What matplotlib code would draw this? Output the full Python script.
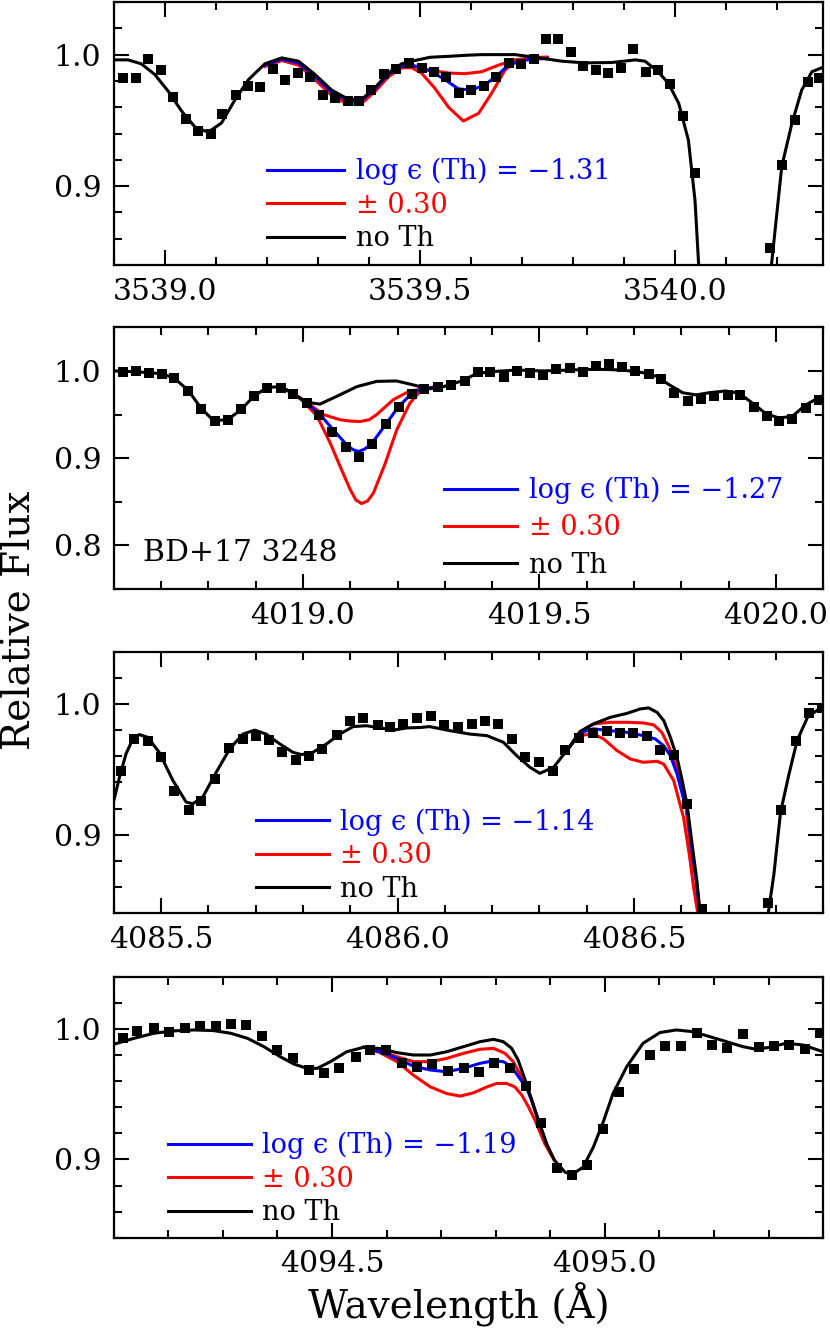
import matplotlib
matplotlib.use('Agg')
import matplotlib.pyplot as plt
from matplotlib.ticker import MultipleLocator, FormatStrFormatter

# ---- panel 1 : 3539 A region ----
p1_wave = [3538.918, 3538.943, 3538.967, 3538.992, 3539.016, 3539.041, 3539.065, 3539.090, 3539.113, 3539.139,
           3539.163, 3539.186, 3539.212, 3539.236, 3539.260, 3539.284, 3539.309, 3539.333, 3539.358, 3539.381,
           3539.405, 3539.430, 3539.454, 3539.478, 3539.503, 3539.527, 3539.551, 3539.576, 3539.600, 3539.625,
           3539.649, 3539.674, 3539.698, 3539.723, 3539.747, 3539.771, 3539.796, 3539.820, 3539.844, 3539.869,
           3539.894, 3539.917, 3539.943, 3539.967, 3539.990, 3540.016, 3540.039, 3540.185, 3540.209, 3540.235,
           3540.260, 3540.282]
p1_flux = [0.982, 0.982, 0.997, 0.988, 0.968, 0.951, 0.942, 0.940, 0.955, 0.969,
           0.976, 0.975, 0.989, 0.981, 0.986, 0.983, 0.969, 0.967, 0.965, 0.965,
           0.973, 0.985, 0.989, 0.994, 0.990, 0.987, 0.983, 0.971, 0.973, 0.976,
           0.983, 0.994, 0.993, 0.997, 1.012, 1.012, 1.002, 0.991, 0.988, 0.986,
           0.990, 1.004, 0.987, 0.988, 0.978, 0.953, 0.910, 0.853, 0.916, 0.950,
           0.979, 0.982]
p1_noth_w = [3538.902, 3538.928, 3538.954, 3538.980, 3539.007, 3539.033, 3539.059, 3539.085, 3539.111, 3539.138,
             3539.164, 3539.196, 3539.229, 3539.262, 3539.294, 3539.327, 3539.360, 3539.386, 3539.412, 3539.438,
             3539.464, 3539.490, 3539.520, 3539.556, 3539.590, 3539.621, 3539.655, 3539.686, 3539.725, 3539.778,
             3539.824, 3539.876, 3539.922, 3539.941, 3539.967, 3539.987, 3540.007, 3540.026, 3540.039, 3540.046,
             3540.052, 3540.183, 3540.189, 3540.209, 3540.229, 3540.248, 3540.268, 3540.294]
p1_noth_f = [0.996, 0.996, 0.993, 0.985, 0.972, 0.957, 0.945, 0.941, 0.948, 0.966,
             0.981, 0.993, 0.9975, 0.995, 0.985, 0.973, 0.966, 0.966, 0.975, 0.986,
             0.993, 0.9955, 0.998, 0.9987, 0.9995, 1.000, 1.000, 1.000, 0.998, 0.995,
             0.9937, 0.994, 0.996, 0.995, 0.987, 0.978, 0.963, 0.935, 0.889, 0.841,
             0.78, 0.78, 0.841, 0.915, 0.948, 0.973, 0.987, 0.991]
p1_blue_w = [3539.196, 3539.229, 3539.262, 3539.294, 3539.327, 3539.360, 3539.386, 3539.412, 3539.438, 3539.464,
             3539.484, 3539.503, 3539.523, 3539.549, 3539.575, 3539.601, 3539.627, 3539.654, 3539.673, 3539.699,
             3539.725, 3539.750]
p1_blue_f = [0.992, 0.9965, 0.9937, 0.9835, 0.9715, 0.9648, 0.9652, 0.974, 0.985, 0.991,
             0.992, 0.990, 0.987, 0.981, 0.974, 0.973, 0.977, 0.985, 0.992, 0.9954,
             0.9967, 0.997]
p1_hi_w = [3539.196, 3539.229, 3539.262, 3539.294, 3539.327, 3539.360, 3539.386, 3539.412, 3539.438, 3539.464,
           3539.490, 3539.516, 3539.556, 3539.588, 3539.621, 3539.654, 3539.686, 3539.725, 3539.750]
p1_hi_f = [0.9915, 0.996, 0.993, 0.9825, 0.9705, 0.9635, 0.964, 0.973, 0.984, 0.990,
           0.991, 0.9885, 0.986, 0.9855, 0.987, 0.992, 0.996, 0.998, 0.998]
p1_lo_w = [3539.196, 3539.229, 3539.262, 3539.294, 3539.327, 3539.360, 3539.386, 3539.412, 3539.438, 3539.464,
           3539.484, 3539.503, 3539.529, 3539.556, 3539.585, 3539.615, 3539.641, 3539.667, 3539.686, 3539.713,
           3539.748]
p1_lo_f = [0.991, 0.9955, 0.992, 0.981, 0.969, 0.962, 0.963, 0.972, 0.983, 0.990,
           0.990, 0.986, 0.9745, 0.960, 0.9495, 0.9554, 0.971, 0.9885, 0.994, 0.9967,
           0.998]

# ---- panel 2 : 4019 A region ----
p2_wave = [4018.619, 4018.646, 4018.674, 4018.703, 4018.728, 4018.757, 4018.785, 4018.814, 4018.841, 4018.868,
           4018.896, 4018.924, 4018.954, 4018.980, 4019.008, 4019.035, 4019.062, 4019.091, 4019.119, 4019.147,
           4019.175, 4019.203, 4019.231, 4019.256, 4019.286, 4019.314, 4019.342, 4019.370, 4019.395, 4019.425,
           4019.453, 4019.481, 4019.508, 4019.536, 4019.564, 4019.592, 4019.620, 4019.647, 4019.675, 4019.703,
           4019.731, 4019.757, 4019.785, 4019.814, 4019.842, 4019.870, 4019.898, 4019.925, 4019.953, 4019.981,
           4020.007, 4020.035, 4020.063, 4020.091]
p2_flux = [0.999, 1.000, 0.998, 0.997, 0.992, 0.977, 0.956, 0.943, 0.944, 0.956,
           0.971, 0.981, 0.981, 0.973, 0.963, 0.949, 0.930, 0.913, 0.901, 0.916,
           0.939, 0.959, 0.974, 0.979, 0.982, 0.984, 0.989, 0.999, 0.999, 0.993,
           1.000, 0.998, 0.995, 1.002, 1.003, 0.999, 1.006, 1.008, 1.005, 1.000,
           0.997, 0.991, 0.975, 0.966, 0.968, 0.971, 0.972, 0.972, 0.959, 0.948,
           0.943, 0.945, 0.958, 0.967]
p2_noth_w = [4018.600, 4018.646, 4018.675, 4018.703, 4018.728, 4018.757, 4018.785, 4018.811, 4018.840, 4018.868,
             4018.896, 4018.924, 4018.952, 4018.980, 4019.008, 4019.036, 4019.072, 4019.114, 4019.156, 4019.198,
             4019.241, 4019.262, 4019.297, 4019.339, 4019.367, 4019.395, 4019.451, 4019.508, 4019.564, 4019.620,
             4019.676, 4019.719, 4019.747, 4019.775, 4019.803, 4019.831, 4019.859, 4019.894, 4019.922, 4019.951,
             4019.979, 4020.007, 4020.035, 4020.063, 4020.100]
p2_noth_f = [1.000, 0.999, 0.998, 0.9966, 0.9916, 0.978, 0.957, 0.943, 0.944, 0.955,
             0.971, 0.981, 0.982, 0.974, 0.964, 0.962, 0.971, 0.982, 0.988, 0.9885,
             0.983, 0.979, 0.982, 0.989, 0.997, 0.999, 1.001, 1.000, 1.001, 1.002,
             1.001, 0.998, 0.994, 0.984, 0.975, 0.9725, 0.975, 0.977, 0.9745, 0.963,
             0.951, 0.946, 0.948, 0.961, 0.972]
p2_blue_w = [4018.952, 4018.980, 4019.008, 4019.036, 4019.065, 4019.093, 4019.105, 4019.117, 4019.129, 4019.142,
             4019.158, 4019.174, 4019.202, 4019.230, 4019.254, 4019.280]
p2_blue_f = [0.982, 0.974, 0.963, 0.950, 0.932, 0.915, 0.910, 0.9076, 0.910, 0.915,
             0.926, 0.938, 0.959, 0.974, 0.980, 0.981]
p2_hi_w = [4018.952, 4018.980, 4019.008, 4019.043, 4019.079, 4019.100, 4019.121, 4019.140, 4019.156, 4019.191,
           4019.226, 4019.262, 4019.280]
p2_hi_f = [0.982, 0.974, 0.964, 0.950, 0.944, 0.9425, 0.942, 0.944, 0.950, 0.967,
           0.977, 0.980, 0.981]
p2_lo_w = [4018.952, 4018.980, 4019.001, 4019.030, 4019.058, 4019.079, 4019.100, 4019.112, 4019.124, 4019.137,
           4019.149, 4019.174, 4019.198, 4019.226, 4019.247, 4019.276]
p2_lo_f = [0.982, 0.974, 0.965, 0.948, 0.917, 0.890, 0.864, 0.852, 0.848, 0.851,
           0.860, 0.894, 0.932, 0.963, 0.976, 0.982]

# ---- panel 3 : 4086 A region ----
p3_wave = [4085.415, 4085.443, 4085.472, 4085.500, 4085.528, 4085.558, 4085.585, 4085.613, 4085.643, 4085.673,
           4085.700, 4085.728, 4085.756, 4085.785, 4085.813, 4085.841, 4085.871, 4085.899, 4085.927, 4085.958,
           4085.985, 4086.012, 4086.041, 4086.070, 4086.099, 4086.128, 4086.157, 4086.185, 4086.213, 4086.243,
           4086.270, 4086.299, 4086.328, 4086.354, 4086.384, 4086.413, 4086.442, 4086.470, 4086.499, 4086.527,
           4086.556, 4086.584, 4086.612, 4086.643, 4086.784, 4086.812, 4086.842, 4086.870, 4086.898]
p3_flux = [0.9486, 0.9733, 0.972, 0.9598, 0.9338, 0.919, 0.926, 0.9424, 0.9664, 0.9733,
           0.9753, 0.9727, 0.963, 0.957, 0.960, 0.9656, 0.976, 0.9873, 0.9895, 0.984,
           0.9827, 0.9847, 0.9893, 0.9905, 0.9837, 0.9824, 0.985, 0.9873, 0.9847, 0.973,
           0.9592, 0.9554, 0.949, 0.9649, 0.9743, 0.9777, 0.979, 0.978, 0.978, 0.9756,
           0.9646, 0.9611, 0.9234, 0.8435, 0.8478, 0.919, 0.9715, 0.9928, 0.997]
p3_noth_w = [4085.400, 4085.412, 4085.426, 4085.440, 4085.454, 4085.472, 4085.496, 4085.525, 4085.553, 4085.567,
             4085.588, 4085.617, 4085.645, 4085.673, 4085.698, 4085.722, 4085.751, 4085.779, 4085.797, 4085.821,
             4085.850, 4085.878, 4085.906, 4085.934, 4085.963, 4085.991, 4086.019, 4086.047, 4086.068, 4086.111,
             4086.153, 4086.189, 4086.224, 4086.252, 4086.280, 4086.301, 4086.330, 4086.358, 4086.386, 4086.414,
             4086.450, 4086.485, 4086.513, 4086.531, 4086.549, 4086.563, 4086.577, 4086.591, 4086.602, 4086.612,
             4086.624, 4086.633, 4086.640, 4086.646, 4086.778, 4086.784, 4086.796, 4086.810, 4086.828, 4086.845,
             4086.867, 4086.888, 4086.902]
p3_noth_f = [0.926, 0.944, 0.962, 0.973, 0.9766, 0.9745, 0.963, 0.9415, 0.925, 0.9237,
             0.9287, 0.948, 0.9656, 0.977, 0.980, 0.977, 0.9695, 0.963, 0.9613, 0.963,
             0.9695, 0.977, 0.9827, 0.9834, 0.9817, 0.980, 0.9817, 0.982, 0.9827, 0.9796,
             0.977, 0.9758, 0.9707, 0.9605, 0.9516, 0.947, 0.9516, 0.9644, 0.979, 0.9847,
             0.9898, 0.9928, 0.9962, 0.997, 0.9936, 0.9873, 0.9745, 0.9592, 0.9415, 0.9237,
             0.890, 0.865, 0.840, 0.80, 0.80, 0.84, 0.870, 0.9173, 0.9466, 0.972,
             0.9898, 0.9954, 0.998]
p3_blue_w = [4086.358, 4086.372, 4086.386, 4086.414, 4086.450, 4086.485, 4086.520, 4086.545, 4086.563, 4086.577,
             4086.591, 4086.604, 4086.612, 4086.622, 4086.632, 4086.639, 4086.645]
p3_blue_f = [0.9644, 0.971, 0.978, 0.981, 0.9796, 0.9783, 0.9758, 0.9733, 0.968, 0.9605,
             0.9466, 0.9287, 0.9224, 0.890, 0.865, 0.840, 0.80]
p3_hi_w = [4086.358, 4086.372, 4086.386, 4086.414, 4086.450, 4086.485, 4086.520, 4086.542, 4086.559, 4086.573,
           4086.588, 4086.600, 4086.609, 4086.620, 4086.631, 4086.638, 4086.644]
p3_hi_f = [0.9644, 0.971, 0.9785, 0.9847, 0.986, 0.986, 0.9855, 0.984, 0.9783, 0.968,
           0.954, 0.9363, 0.9237, 0.890, 0.865, 0.840, 0.80]
p3_lo_w = [4086.358, 4086.372, 4086.386, 4086.414, 4086.436, 4086.464, 4086.492, 4086.520, 4086.549, 4086.563,
           4086.584, 4086.605, 4086.617, 4086.626, 4086.635, 4086.641]
p3_lo_f = [0.9644, 0.971, 0.976, 0.977, 0.9733, 0.9644, 0.958, 0.9554, 0.9562, 0.954,
           0.9415, 0.913, 0.885, 0.860, 0.840, 0.80]

# ---- panel 4 : 4095 A region ----
p4_wave = [4094.116, 4094.143, 4094.173, 4094.201, 4094.230, 4094.258, 4094.287, 4094.314, 4094.343, 4094.372,
           4094.399, 4094.428, 4094.457, 4094.485, 4094.513, 4094.543, 4094.570, 4094.599, 4094.628, 4094.655,
           4094.684, 4094.712, 4094.741, 4094.769, 4094.797, 4094.826, 4094.855, 4094.883, 4094.912, 4094.940,
           4094.968, 4094.997, 4095.026, 4095.054, 4095.082, 4095.111, 4095.139, 4095.168, 4095.196, 4095.224,
           4095.253, 4095.282, 4095.310, 4095.338, 4095.367, 4095.395]
p4_flux = [0.9928, 0.9985, 1.0005, 0.9979, 1.0005, 1.0023, 1.0023, 1.0038, 1.0031, 0.9946,
           0.9838, 0.9779, 0.9685, 0.9664, 0.9702, 0.9782, 0.9838, 0.9838, 0.9741, 0.971,
           0.9731, 0.9679, 0.9702, 0.9672, 0.9741, 0.9698, 0.9564, 0.9279, 0.8936, 0.8882,
           0.8959, 0.9236, 0.9513, 0.9692, 0.980, 0.9872, 0.9872, 0.9967, 0.9877, 0.9856,
           0.9959, 0.9859, 0.9869, 0.9877, 0.9844, 0.9967]
p4_noth_w = [4094.102, 4094.137, 4094.174, 4094.210, 4094.247, 4094.283, 4094.314, 4094.345, 4094.375, 4094.405,
             4094.430, 4094.454, 4094.473, 4094.497, 4094.527, 4094.558, 4094.588, 4094.619, 4094.649, 4094.680,
             4094.710, 4094.741, 4094.771, 4094.796, 4094.814, 4094.829, 4094.841, 4094.854, 4094.866, 4094.878,
             4094.893, 4094.908, 4094.927, 4094.940, 4094.960, 4094.979, 4094.997, 4095.015, 4095.040, 4095.070,
             4095.101, 4095.131, 4095.161, 4095.192, 4095.223, 4095.253, 4095.277, 4095.302, 4095.332, 4095.363,
             4095.400]
p4_noth_f = [0.9885, 0.9928, 0.9967, 0.9985, 0.9992, 0.9987, 0.9967, 0.9928, 0.9864, 0.9787,
             0.9731, 0.9698, 0.9698, 0.9749, 0.9825, 0.9859, 0.985, 0.9818, 0.980, 0.980,
             0.9825, 0.9864, 0.9902, 0.992, 0.9902, 0.9852, 0.9762, 0.9608, 0.9454, 0.930,
             0.9121, 0.8992, 0.8902, 0.8885, 0.894, 0.9095, 0.9287, 0.9505, 0.971, 0.989,
             0.9972, 0.9992, 0.9979, 0.9941, 0.9902, 0.9864, 0.9844, 0.9859, 0.989, 0.9877,
             0.9825]
p4_blue_w = [4094.558, 4094.588, 4094.619, 4094.649, 4094.680, 4094.710, 4094.741, 4094.771, 4094.796, 4094.814,
             4094.829, 4094.844, 4094.857, 4094.866, 4094.878, 4094.893]
p4_blue_f = [0.9859, 0.9825, 0.9774, 0.9715, 0.9685, 0.9672, 0.9698, 0.9736, 0.9756, 0.9749,
             0.971, 0.9621, 0.9544, 0.945, 0.930, 0.9121]
p4_hi_w = [4094.558, 4094.588, 4094.619, 4094.649, 4094.680, 4094.710, 4094.741, 4094.771, 4094.796, 4094.817,
           4094.832, 4094.844, 4094.857, 4094.866, 4094.878, 4094.893]
p4_hi_f = [0.9859, 0.9833, 0.9787, 0.9749, 0.9749, 0.9774, 0.9813, 0.9844, 0.9851, 0.9813,
           0.9749, 0.9659, 0.9556, 0.9454, 0.930, 0.9121]
p4_lo_w = [4094.558, 4094.588, 4094.619, 4094.649, 4094.680, 4094.710, 4094.735, 4094.759, 4094.784, 4094.802,
           4094.820, 4094.835, 4094.848, 4094.860, 4094.872, 4094.890, 4094.907]
p4_lo_f = [0.9859, 0.9818, 0.9749, 0.9646, 0.9556, 0.9505, 0.9485, 0.951, 0.9556, 0.9582,
           0.9582, 0.9556, 0.9492, 0.9403, 0.930, 0.912, 0.8995]

# fitted abundances shown in the legends
logeps = ['\u22121.31', '\u22121.27', '\u22121.14', '\u22121.19']
xlims = [(3538.90, 3540.29), (4018.60, 4020.10), (4085.40, 4086.90), (4094.10, 4095.40)]
ylims = [(0.84, 1.04), (0.75, 1.05), (0.84, 1.04), (0.84, 1.04)]
star = 'BD+17 3248'

plt.rcParams.update({
    'font.family': ['DejaVu Serif', 'DejaVu Sans'],
    'axes.linewidth': 1.6,
})

fig = plt.figure(figsize=(8.3, 13.42), dpi=100)

# axes boxes [left, bottom, width, height]
boxes = [[0.1371, 0.8025, 0.8546, 0.1960],
         [0.1371, 0.5611, 0.8546, 0.1950],
         [0.1371, 0.3195, 0.8546, 0.1949],
         [0.1371, 0.0777, 0.8546, 0.1945]]
# legend anchor (axes fraction, centre of the middle row) and handle length per panel
leg_pos = [(0.216, 0.228), (0.466, 0.234), (0.200, 0.220), (0.077, 0.224)]
leg_len = [2.85, 2.7, 2.7, 3.05]
leg_space = [0.24, 0.38, 0.24, 0.24]

panels = [
    (p1_wave, p1_flux, p1_noth_w, p1_noth_f, p1_blue_w, p1_blue_f, p1_hi_w, p1_hi_f, p1_lo_w, p1_lo_f),
    (p2_wave, p2_flux, p2_noth_w, p2_noth_f, p2_blue_w, p2_blue_f, p2_hi_w, p2_hi_f, p2_lo_w, p2_lo_f),
    (p3_wave, p3_flux, p3_noth_w, p3_noth_f, p3_blue_w, p3_blue_f, p3_hi_w, p3_hi_f, p3_lo_w, p3_lo_f),
    (p4_wave, p4_flux, p4_noth_w, p4_noth_f, p4_blue_w, p4_blue_f, p4_hi_w, p4_hi_f, p4_lo_w, p4_lo_f),
]

for i, (ow, of, nw, nf, bw, bf, hw, hf, lw_, lf) in enumerate(panels):
    ax = fig.add_axes(boxes[i])
    lw = 2.2
    red_lo, = ax.plot(lw_, lf, color='red', lw=lw, zorder=2)
    ax.plot(hw, hf, color='red', lw=lw, zorder=2)
    blue, = ax.plot(bw, bf, color='blue', lw=lw, zorder=3)
    black, = ax.plot(nw, nf, color='black', lw=lw, zorder=4)
    ax.plot(ow, of, 's', color='black', ms=7.6, mew=0.0, zorder=5)

    ax.set_xlim(*xlims[i])
    ax.set_ylim(*ylims[i])
    ax.xaxis.set_major_locator(MultipleLocator(0.5))
    ax.xaxis.set_minor_locator(MultipleLocator(0.1))
    ax.yaxis.set_major_locator(MultipleLocator(0.1))
    ax.yaxis.set_minor_locator(MultipleLocator(0.05 if i == 1 else 0.02))
    ax.xaxis.set_major_formatter(FormatStrFormatter('%.1f'))
    ax.yaxis.set_major_formatter(FormatStrFormatter('%.1f'))
    ax.tick_params(which='both', direction='in', top=True, right=True, width=1.5,
                   labelsize=21.5, pad=9)
    ax.tick_params(which='major', length=11)
    ax.tick_params(which='minor', length=6)

    ax.legend([blue, red_lo, black],
              ['log \u03f5 (Th) = ' + logeps[i], '\u00b1 0.30', 'no Th'],
              loc='center left', bbox_to_anchor=leg_pos[i], frameon=False,
              fontsize=19.5, handlelength=leg_len[i], handletextpad=0.42,
              labelspacing=leg_space[i], borderpad=0, borderaxespad=0,
              labelcolor='linecolor')
    if i == 1:
        ax.text(0.041, 0.138, star, transform=ax.transAxes, fontsize=21.5,
                ha='left', va='center')

fig.text(0.553, 0.0276, 'Wavelength (\u00c5)', ha='center', va='center', fontsize=28)
fig.text(0.024, 0.538, 'Relative Flux', ha='center', va='center', rotation=90, fontsize=28)

fig.savefig('out.png', dpi=100)
